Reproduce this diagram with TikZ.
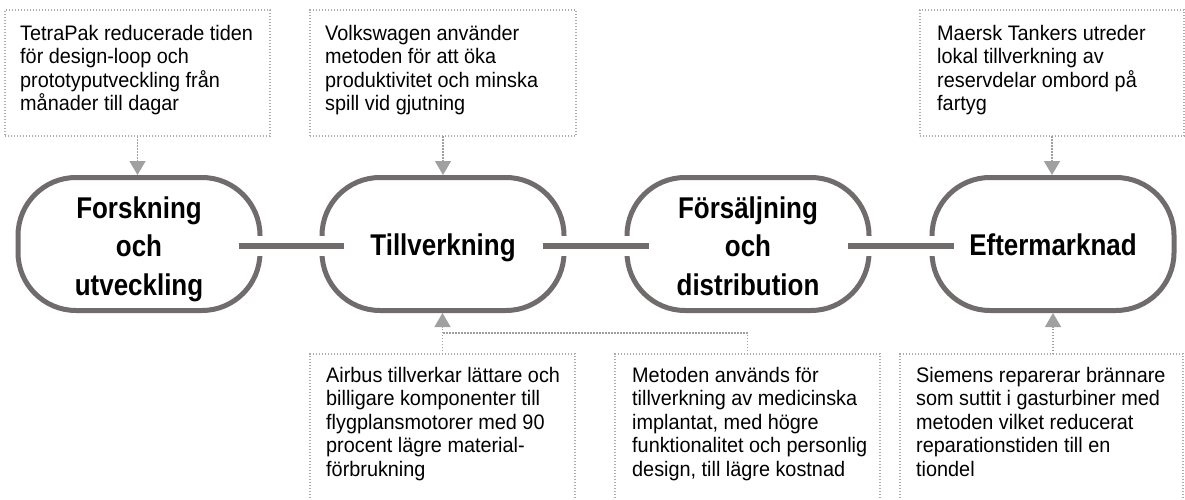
\documentclass[tikz,border=0pt]{standalone}
\usepackage{fontspec}
\setmainfont{Liberation Sans}
\newfontfamily\stagefont{Liberation Sans}[FakeStretch=0.865]
\newfontfamily\notefont{Liberation Sans}[FakeStretch=0.945]
\usetikzlibrary{arrows.meta,calc}
\definecolor{stageline}{RGB}{112,108,108}
\definecolor{dotgray}{RGB}{172,172,172}
\definecolor{arrgray}{RGB}{160,160,160}
\tikzset{
 stagebox/.style={draw=stageline, line width=5pt, rounded corners=58pt, minimum width=242pt, minimum height=133pt, inner sep=0pt, outer sep=2.5pt},
 stagetext/.style={font=\stagefont\fontsize{30}{38.5}\selectfont\bfseries, align=center, inner sep=0pt},
 notebox/.style={draw=dotgray, line width=1.4pt, dash pattern=on 1.4pt off 1.6pt, inner sep=0pt, outer sep=0pt, anchor=north west},
 notetext/.style={font=\notefont\fontsize{21}{23.5}\selectfont, align=left, inner sep=0pt, anchor=north west},
 link/.style={draw=stageline, line width=6pt, preaction={draw=white, line width=20pt}},
 feed/.style={draw=arrgray, line width=1.5pt, dash pattern=on 1.5pt off 1.5pt, -{Triangle[width=16pt,length=14pt]}},
 feedline/.style={draw=arrgray, line width=1.5pt, dash pattern=on 1.5pt off 1.5pt},
}
\begin{document}
\begin{tikzpicture}[x=1pt,y=-1pt]
\useasboundingbox (0,0) rectangle (1185,500);
\fill[white] (0,0) rectangle (1185,500);

% stages
\node[stagebox] (s1) at (139,244) {};
\node[stagebox] (s2) at (443,244) {};
\node[stagebox] (s3) at (748,244) {};
\node[stagebox] (s4) at (1053,244) {};

% links between stages
\draw[link] ([xshift=-24pt,yshift=-2pt]s1.east) -- ([xshift=24pt,yshift=-2pt]s2.west);
\draw[link] ([xshift=-24pt,yshift=-2pt]s2.east) -- ([xshift=24pt,yshift=-2pt]s3.west);
\draw[link] ([xshift=-24pt,yshift=-2pt]s3.east) -- ([xshift=24pt,yshift=-2pt]s4.west);

% stage texts
\node[stagetext, anchor=north] (l1) at (139,188) {\rule{0pt}{30pt}Forskning\\och\\utveckling};
\node[stagetext, anchor=base] (l2) at (443,255) {Tillverkning};
\node[stagetext, anchor=north] (l3) at (748,188) {\rule{0pt}{30pt}Försäljning\\och\\distribution};
\node[stagetext, anchor=base] (l4) at (1053,255) {Eftermarknad};

% top notes
\node[notebox, minimum width=265pt, minimum height=126pt] (t1) at (5,10) {};
\node[notetext] (t1txt) at (20,21) {\rule{0pt}{19pt}TetraPak reducerade tiden\\för design-loop och\\prototyputveckling från\\månader till dagar};
\node[notebox, minimum width=266pt, minimum height=126pt] (t2) at (310,10) {};
\node[notetext] (t2txt) at (325,21) {\rule{0pt}{19pt}Volkswagen använder\\metoden för att öka\\produktivitet och minska\\spill vid gjutning};
\node[notebox, minimum width=264pt, minimum height=126pt] (t4) at (920,10) {};
\node[notetext] (t4txt) at (937,21) {\rule{0pt}{19pt}Maersk Tankers utreder\\lokal tillverkning av\\reservdelar ombord på\\fartyg};

% bottom notes
\node[notebox, minimum width=265pt, minimum height=170pt] (b2) at (310,354) {};
\node[notetext] (b2txt) at (326,363) {\rule{0pt}{19pt}Airbus tillverkar lättare och\\billigare komponenter till\\flygplansmotorer med 90\\procent lägre material-\\förbrukning};
\node[notebox, minimum width=265pt, minimum height=170pt] (b3) at (615,354) {};
\node[notetext] (b3txt) at (632,363) {\rule{0pt}{19pt}Metoden används för\\tillverkning av medicinska\\implantat, med högre\\funktionalitet och personlig\\design, till lägre kostnad};
\node[notebox, minimum width=283pt, minimum height=170pt] (b4) at (900,354) {};
\node[notetext] (b4txt) at (916,363) {\rule{0pt}{19pt}Siemens reparerar brännare\\som suttit i gasturbiner med\\metoden vilket reducerat\\reparationstiden till en\\tiondel};

% feeds
\draw[feed] (t1.south) -- (t1.south |- s1.north);
\draw[feed] (t2.south) -- (t2.south |- s2.north);
\draw[feed] (t4.south) -- (t4.south |- s4.north);
\coordinate (j) at ($(b2.north)+(0,-21)$);
\draw[feedline] (b3.north) |- (j);
\draw[feed] (b2.north) -- (b2.north |- s2.south);
\draw[feed] (s4.south |- b4.north) -- (s4.south);
\end{tikzpicture}
\end{document}
